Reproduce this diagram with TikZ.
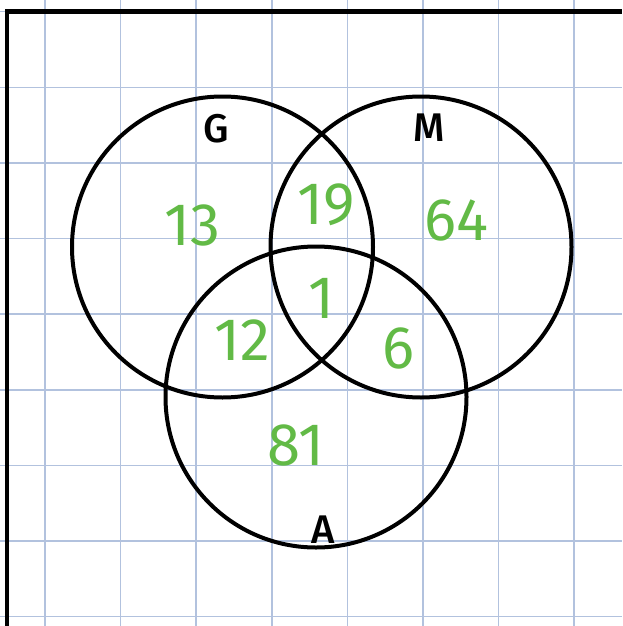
\documentclass[tikz,border=0pt]{standalone}
\usepackage{fontspec}
\setmainfont{Fira Sans}
\definecolor{gridc}{RGB}{178,194,222}
\definecolor{ink}{RGB}{98,186,70}
\begin{document}
\begin{tikzpicture}[x=1pt,y=-1pt,
  gridline/.style={gridc,line width=1.6pt},
  border/.style={black,line width=4.5pt},
  venn/.style={draw=black,line width=4pt,circle,minimum size=301pt,inner sep=0pt},
  num/.style={ink,font=\fontsize{60}{60}\selectfont},
  lab/.style={black,font=\fontsize{40}{40}\selectfont\fontspec{Fira Sans Medium}}]
\useasboundingbox (0,0) rectangle (622,626);
\fill[white] (0,0) rectangle (622,626);
% grid
\foreach \x in {45,120.6,196.2,271.8,347.4,423,498.6,574.2}
  \draw[gridline] (\x,0) -- (\x,626);
\foreach \y in {11.7,87.3,162.9,238.5,314.1,389.7,465.3,540.9,616.5}
  \draw[gridline] (0,\y) -- (622,\y);
% border
\draw[border] (7,626) -- (7,11.7) -- (622,11.7);
% circles
\node[venn] (G) at (222.5,247) {};
\node[venn] (M) at (421,247) {};
\node[venn] (A) at (316,397) {};
% labels
\node[lab] (lG) at (216,129) {G};
\node[lab] (lM) at (429,128) {M};
\node[lab] (lA) at (323,530) {A};
% numbers
\node[num] (n13) at (192,225) {13};
\node[num] (n19) at (326,205) {19};
\node[num] (n64) at (456,220) {64};
\node[num] (n1) at (321,298) {1};
\node[num] (n12) at (242,340) {12};
\node[num] (n6) at (398,348) {6};
\node[num] (n81) at (296,445) {81};
\end{tikzpicture}
\end{document}
